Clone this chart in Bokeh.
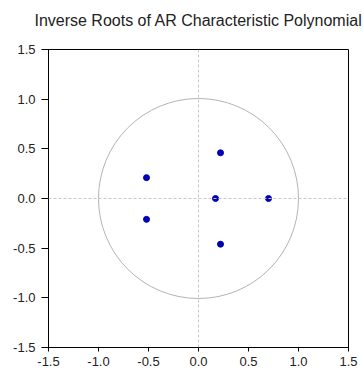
from bokeh.plotting import figure
from bokeh.models import Range1d, FixedTicker, NumeralTickFormatter, Span, Title
from bokeh.embed import file_html
from bokeh.resources import INLINE

# Inverse roots (real, imaginary)
root_re = [0.70, 0.17, 0.22, 0.22, -0.52, -0.52]
root_im = [0.00, 0.00, 0.46, -0.46, 0.21, -0.21]
ticks = [-1.5, -1.0, -0.5, 0.0, 0.5, 1.0, 1.5]
title_text = "Inverse Roots of AR Characteristic Polynomial"

p = figure(width=363, height=373, output_backend="svg", toolbar_location=None,
           x_range=Range1d(-1.5, 1.5), y_range=Range1d(-1.5, 1.5),
           title=None,
           min_border_left=48, min_border_right=15, min_border_top=49, min_border_bottom=26)

spacer = Title(text=" ", text_font_size="10px", standoff=8)
main_title = Title(text=title_text, align="center", text_font="Liberation Sans",
                   text_font_style="normal", text_font_size="16px",
                   text_color="#222222", standoff=0)
p.add_layout(spacer, "above")
p.add_layout(main_title, "above")

p.xgrid.visible = False
p.ygrid.visible = False
p.outline_line_color = "black"
p.outline_line_width = 1

for ax in (p.xaxis[0], p.yaxis[0]):
    ax.ticker = FixedTicker(ticks=ticks)
    ax.formatter = NumeralTickFormatter(format="0.0")
    ax.major_tick_in = 0
    ax.minor_tick_line_color = None
    ax.axis_line_color = "black"
    ax.major_tick_line_color = "black"
    ax.major_label_text_font = "Liberation Sans"
    ax.major_label_text_font_size = "13px"
    ax.major_label_text_color = "#222222"

p.xaxis[0].major_tick_out = 4
p.xaxis[0].major_label_standoff = 5
p.yaxis[0].major_tick_out = 7
p.yaxis[0].major_label_standoff = 6

p.add_layout(Span(location=0, dimension="width", line_color="#c8c8c8", line_dash="3 2", line_width=1))
p.add_layout(Span(location=0, dimension="height", line_color="#c8c8c8", line_dash="3 2", line_width=1))

p.circle(x=[0], y=[0], radius=1.0, fill_color=None, line_color="#b4b4b4", line_width=1)
p.scatter(root_re, root_im, size=6, color="#0000b4")

open("out.html", "w").write(file_html(p, INLINE))
